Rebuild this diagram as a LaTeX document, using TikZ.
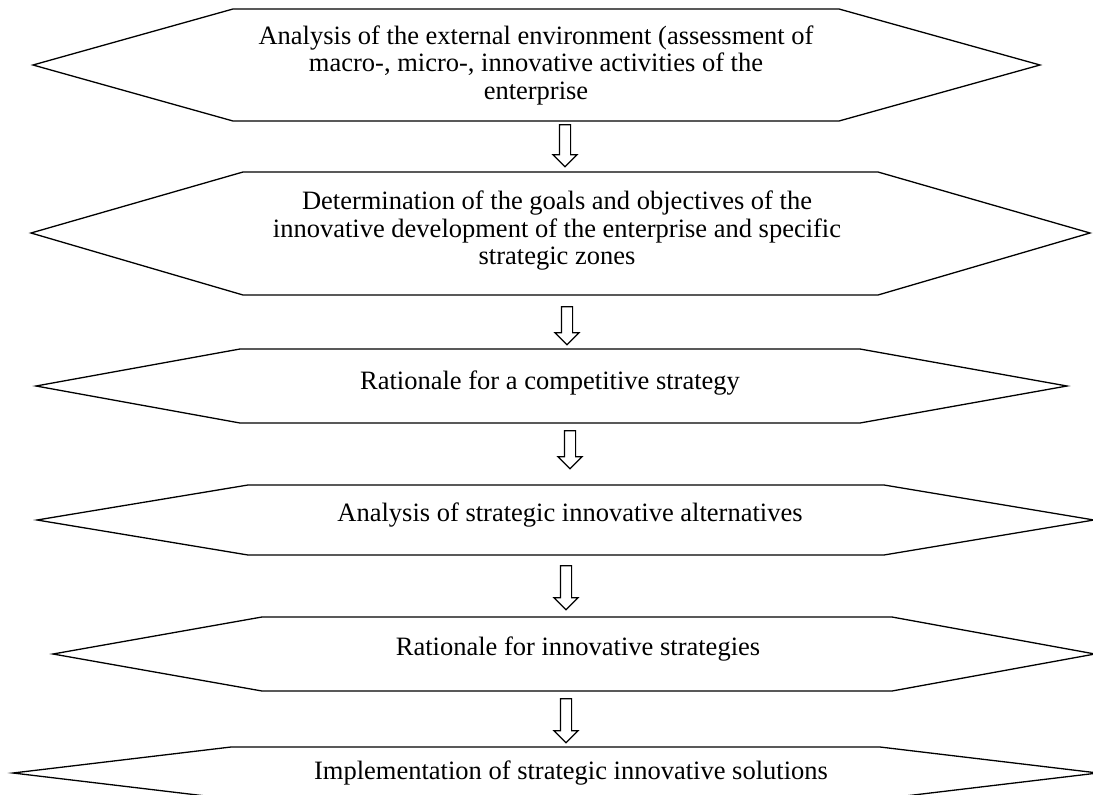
\documentclass[tikz,border=0pt]{standalone}
\usepackage{fontspec}
\setmainfont{Liberation Serif}
\usetikzlibrary{shapes.arrows}
\begin{document}
\begin{tikzpicture}[x=1pt,y=-1pt,
  hexline/.style={line width=1.3pt, line join=miter},
  label/.style={align=center, inner sep=0pt, font=\fontsize{26.5}{27.5}\selectfont},
  blockarrow/.style={single arrow, draw, line width=1.2pt, rotate=-90, inner sep=5pt,
    single arrow head extend=6.5pt, minimum width=23pt, shape border rotate=0}]
\useasboundingbox (0,0) rectangle (1093,795);
\clip (0,0) rectangle (1093,795);
% box 1
\draw[hexline] (33,65) -- (233,9) -- (839,9) -- (1040,65) -- (839,121) -- (233,121) -- cycle;
\node[label] (t1) at (536,65) {Analysis of the external environment (assessment of\\ macro-, micro-, innovative activities of the\\ enterprise};
% box 2
\draw[hexline] (31,233) -- (243,172) -- (878,172) -- (1090,233) -- (878,295) -- (243,295) -- cycle;
\node[label] (t2) at (557,231) {Determination of the goals and objectives of the\\ innovative development of the enterprise and specific\\ strategic zones};
% box 3
\draw[hexline] (36,386) -- (240,349) -- (860,349) -- (1067,386) -- (860,423) -- (240,423) -- cycle;
\node[label] (t3) at (550,383) {Rationale for a competitive strategy};
% box 4
\draw[hexline] (37,520) -- (248,485) -- (884,485) -- (1094,520) -- (884,555) -- (248,555) -- cycle;
\node[label] (t4) at (570,515) {Analysis of strategic innovative alternatives};
% box 5
\draw[hexline] (53,654) -- (262,617) -- (892,617) -- (1095,654) -- (892,691) -- (262,691) -- cycle;
\node[label] (t5) at (578,649) {Rationale for innovative strategies};
% box 6
\draw[hexline] (13,773) -- (231,747) -- (880,747) -- (1098,773) -- (880,799) -- (231,799) -- cycle;
\node[label] (t6) at (571,773) {Implementation of strategic innovative solutions};
% arrows
\node[blockarrow, minimum height=42pt] (a1) at (565,143) {};
\node[blockarrow, minimum height=38pt] (a2) at (567,323) {};
\node[blockarrow, minimum height=38pt] (a3) at (570,447) {};
\node[blockarrow, minimum height=44pt] (a4) at (566,585) {};
\node[blockarrow, minimum height=44pt] (a5) at (566,718) {};
\end{tikzpicture}
\end{document}
